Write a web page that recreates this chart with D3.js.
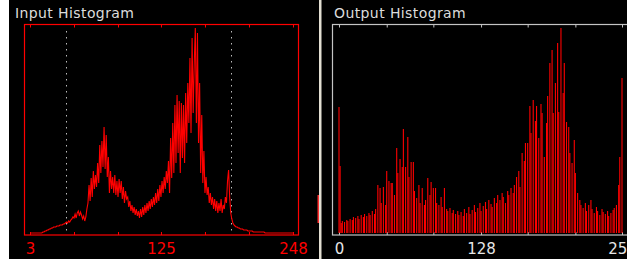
<!DOCTYPE html>
<html>
<head>
<meta charset="utf-8">
<script src="https://cdn.jsdelivr.net/npm/d3@7"></script>
<style>
body { margin: 0; background: #fff; }
text { font-family: "DejaVu Sans", sans-serif; }
</style>
</head>
<body>
<script>
// input histogram, grey levels 3..248
var inputFirstLevel = 3;
var inputCounts = [
	0,0,0,0,0,0,0,0,0,0,0,0,
	1,1,2,2,3,3,4,4,5,5,
	6,6,6,7,7,7,8,8,8,9,
	9,10,11,10,12,11,13,14,16,15,
	19,15,20,22,17,21,18,14,17,12,16,24,
	30,48,32,55,36,62,44,58,46,70,
	50,88,60,92,66,106,64,98,56,76,
	40,62,44,56,40,58,38,52,36,54,
	40,52,34,46,30,42,34,36,26,32,
	22,28,20,26,18,24,17,22,15,24,
	16,26,18,28,20,30,22,32,24,34,
	26,36,28,40,30,44,32,48,36,52,
	40,56,44,62,50,72,40,95,55,110,
	60,128,70,138,80,132,60,130,75,128,
	70,140,90,150,110,175,100,195,120,170,
	205,110,200,90,150,60,118,50,82,40,
	56,38,46,30,40,28,36,24,34,22,
	32,20,30,22,34,20,28,24,36,30,
	52,63,36,20,14,10,8,7,6,6,
	5,5,4,4,4,3,3,3,3,2,
	2,2,2,2,1,1,1,1,1,1,
	1,1,1,1,1,0,0,0,0,0,
	0,0,0,0,0,0,0,0,0,0,
	0,0,0,0,0,0,0,0,0,0,0,0
];
// output histogram, grey levels 0..255
var outputCounts = [
	126,67,10,12,0,11,0,13,12,0,
	14,0,13,16,0,15,0,17,14,0,
	18,0,16,19,0,17,0,20,18,0,
	22,0,19,24,0,48,0,45,30,0,
	46,0,28,62,0,52,0,50,50,0,
	38,0,85,60,0,74,0,66,104,0,
	66,0,96,56,0,71,0,71,42,0,
	35,0,48,30,0,45,0,28,33,0,
	55,0,38,51,0,45,0,45,30,0,
	28,0,36,26,0,45,0,24,22,0,
	25,0,20,23,0,19,0,22,18,0,
	21,0,17,24,0,20,0,26,19,0,
	23,0,28,21,0,25,0,30,22,0,
	27,0,31,24,0,33,0,29,26,0,
	35,0,30,38,0,33,0,40,36,0,
	30,0,42,38,0,45,0,40,48,0,
	56,0,62,46,0,80,0,72,90,0,
	90,0,127,100,0,133,0,112,127,0,
	95,0,129,120,0,76,0,110,137,0,
	170,0,183,120,0,150,0,190,121,0,
	205,0,140,170,0,111,0,106,80,0,
	70,0,93,60,0,40,0,33,28,0,
	25,0,30,22,0,28,0,33,24,0,
	20,0,26,22,0,18,0,24,21,0,
	19,0,22,17,0,20,0,23,25,0,
	28,0,48,76,0,155
];
var inputTicks = [3, 44, 85, 125, 166, 207, 248];
var inputLabels = [3, 125, 248];
var inputMarkers = [37, 190];
var outputTicks = [0, 43, 85, 128, 170, 213, 255];
var outputLabels = [0, 128, 255];

var svg = d3.select("body").append("svg")
	.attr("width", 627)
	.attr("height", 259);

// backgrounds
svg.append("rect").attr("x", 9).attr("y", 0).attr("width", 618).attr("height", 259).attr("fill", "#000");
svg.append("rect").attr("x", 319).attr("y", 0).attr("width", 2.5).attr("height", 259).attr("fill", "#e2ded2");
svg.append("rect").attr("x", 317.5).attr("y", 195).attr("width", 1.5).attr("height", 28).attr("fill", "#ff3030");

var y = d3.scaleLinear().domain([0, 207]).range([233, 26]);
var xIn = d3.scaleLinear().domain([3, 248]).range([30, 293]);
var xOut = d3.scaleLinear().domain([0, 255]).range([339, 622]);

// titles
svg.append("text").attr("x", 15).attr("y", 18)
	.attr("fill", "#dcdcdc").style("font-size", "14px").style("letter-spacing", "0.4px")
	.text("Input Histogram");
svg.append("text").attr("x", 334).attr("y", 18)
	.attr("fill", "#dcdcdc").style("font-size", "14px").style("letter-spacing", "0.4px")
	.text("Output Histogram");

// ---- input panel
var gin = svg.append("g");
gin.append("rect").attr("x", 24.5).attr("y", 24.5).attr("width", 274).attr("height", 210.5)
	.attr("fill", "none").attr("stroke", "#f00").attr("stroke-width", 1.2);

gin.append("g").attr("transform", "translate(0,24.5)")
	.call(d3.axisTop(xIn).tickValues(inputTicks).tickSizeInner(-3).tickSizeOuter(0).tickFormat(""))
	.call(function (g) { g.select(".domain").remove(); g.selectAll("line").attr("stroke", "#f00"); });
gin.append("g").attr("transform", "translate(0,235)")
	.call(d3.axisBottom(xIn).tickValues(inputTicks).tickSizeInner(-3).tickSizeOuter(0).tickFormat(""))
	.call(function (g) { g.select(".domain").remove(); g.selectAll("line").attr("stroke", "#f00"); });
gin.append("g").attr("transform", "translate(0,235)")
	.call(d3.axisBottom(xIn).tickValues(inputLabels).tickSize(0).tickPadding(8))
	.call(function (g) {
		g.select(".domain").remove();
		g.selectAll("text").attr("fill", "#f00").style("font-size", "15px")
			.attr("font-family", null);
	});

gin.selectAll(".marker").data(inputMarkers).enter().append("line")
	.attr("class", "marker")
	.attr("x1", function (d) { return Math.round(xIn(d)) + 0.5; })
	.attr("x2", function (d) { return Math.round(xIn(d)) + 0.5; })
	.attr("y1", 31).attr("y2", 235)
	.attr("stroke", "#bbb").attr("stroke-width", 1).attr("stroke-dasharray", "1.5,4.5");

gin.append("path").datum(inputCounts)
	.attr("fill", "none").attr("stroke", "#f00").attr("stroke-width", 1.1)
	.attr("d", d3.line()
		.x(function (d, i) { return xIn(i + inputFirstLevel); })
		.y(function (d) { return y(d); }));

// ---- output panel
var gout = svg.append("g");
gout.append("rect").attr("x", 332.5).attr("y", 24.5).attr("width", 310).attr("height", 210.5)
	.attr("fill", "none").attr("stroke", "#c4c4c4").attr("stroke-width", 1.2);

gout.append("g").attr("transform", "translate(0,24.5)")
	.call(d3.axisTop(xOut).tickValues(outputTicks).tickSizeInner(-3).tickSizeOuter(0).tickFormat(""))
	.call(function (g) { g.select(".domain").remove(); g.selectAll("line").attr("stroke", "#c4c4c4"); });
gout.append("g").attr("transform", "translate(0,235)")
	.call(d3.axisBottom(xOut).tickValues(outputTicks).tickSizeInner(-3).tickSizeOuter(0).tickFormat(""))
	.call(function (g) { g.select(".domain").remove(); g.selectAll("line").attr("stroke", "#c4c4c4"); });
gout.append("g").attr("transform", "translate(0,235)")
	.call(d3.axisBottom(xOut).tickValues(outputLabels).tickSize(0).tickPadding(8))
	.call(function (g) {
		g.select(".domain").remove();
		g.selectAll("text").attr("fill", "#e6e6e6").style("font-size", "15px")
			.attr("font-family", null);
	});

gout.selectAll(".bar").data(outputCounts.map(function (d, i) { return { level: i, count: d }; })
		.filter(function (d) { return d.count > 0; }))
	.enter().append("line")
	.attr("class", "bar")
	.attr("x1", function (d) { return xOut(d.level); })
	.attr("x2", function (d) { return xOut(d.level); })
	.attr("y1", y(0))
	.attr("y2", function (d) { return y(d.count); })
	.attr("stroke", "#f00").attr("stroke-width", 1.1);
</script>
</body>
</html>
